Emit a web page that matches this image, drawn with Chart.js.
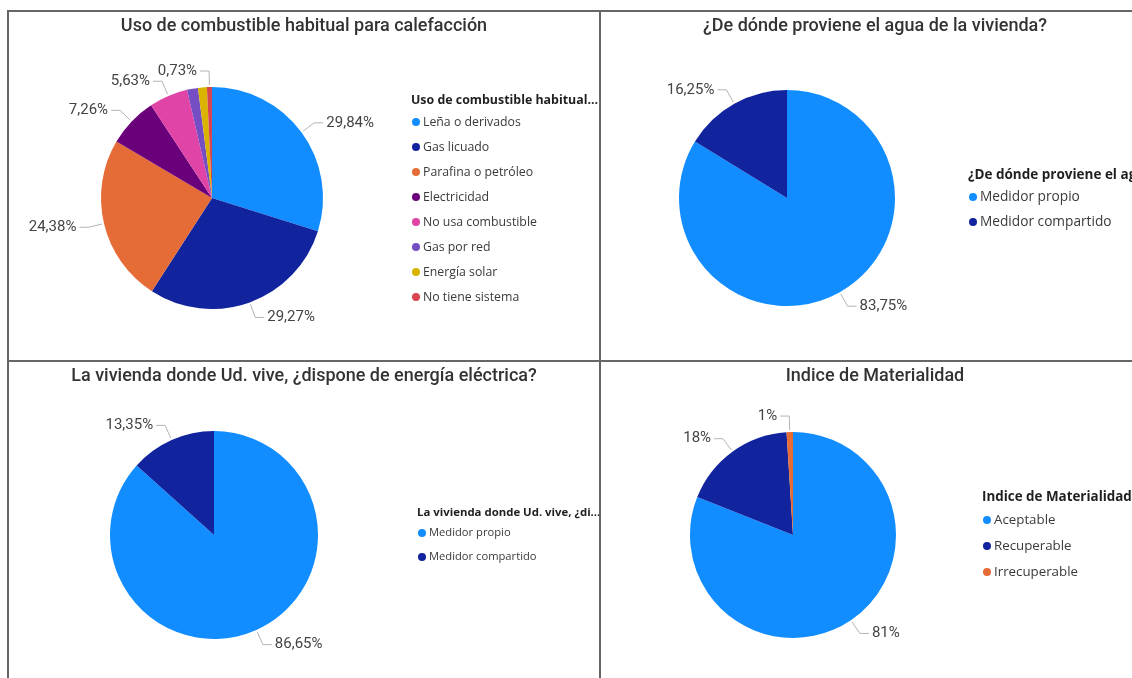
<!DOCTYPE html>
<html>
<head>
<meta charset="utf-8">
<script src="https://cdn.jsdelivr.net/npm/chart.js"></script>
<style>
  html, body { margin: 0; padding: 0; background: #fff; width: 1132px; height: 678px; overflow: hidden; position: relative; }
  canvas { position: absolute; display: block; }
  .line { position: absolute; background: #666; }
</style>
</head>
<body>
<div class="line" style="left:7px;top:10px;width:1125px;height:2px"></div>
<div class="line" style="left:7px;top:10px;width:2px;height:668px"></div>
<div class="line" style="left:599px;top:10px;width:2px;height:668px"></div>
<div class="line" style="left:7px;top:360px;width:1125px;height:2px"></div>

<canvas id="c1" width="590" height="348" style="left:9px;top:12px"></canvas>
<canvas id="c2" width="548" height="348" style="left:601px;top:12px"></canvas>
<canvas id="c3" width="590" height="316" style="left:9px;top:362px"></canvas>
<canvas id="c4" width="548" height="316" style="left:601px;top:362px"></canvas>

<script>
// --- data ---
const fuelLabels = ["Leña o derivados", "Gas licuado", "Parafina o petróleo", "Electricidad",
  "No usa combustible", "Gas por red", "Energía solar", "No tiene sistema"];
const fuelValues = [29.84, 29.27, 24.38, 7.26, 5.63, 1.60, 1.29, 0.73];
const fuelColors = ["#118DFF", "#12239E", "#E66C37", "#6B007B", "#E044A7", "#744EC2", "#D9B300", "#D64550"];

const waterLabels = ["Medidor propio", "Medidor compartido"];
const waterValues = [83.75, 16.25];

const powerLabels = ["Medidor propio", "Medidor compartido"];
const powerValues = [86.65, 13.35];

const matLabels = ["Aceptable", "Recuperable", "Irrecuperable"];
const matValues = [81, 18, 1];

const TITLE_FONT = "500 18px Roboto";
const LABEL_FONT = "15px Roboto";

function fmt(v, dec) {
  return v.toFixed(dec).replace(".", ",") + "%";
}

// data labels with leader lines, like the report
const pieLabels = {
  id: "pieLabels",
  afterDatasetsDraw(chart, args, opts) {
    const ctx = chart.ctx;
    const meta = chart.getDatasetMeta(0);
    const data = chart.data.datasets[0].data;
    const hide = opts.hide || [];
    ctx.save();
    ctx.font = LABEL_FONT;
    ctx.textBaseline = "middle";
    meta.data.forEach((arc, i) => {
      if (hide.includes(i)) return;
      const p = arc.getProps(["x", "y", "startAngle", "endAngle", "outerRadius"], true);
      const mid = (p.startAngle + p.endAngle) / 2;
      const c = Math.cos(mid), s = Math.sin(mid);
      const x0 = p.x + c * (p.outerRadius + 2), y0 = p.y + s * (p.outerRadius + 2);
      const x1 = p.x + c * (p.outerRadius + 16), y1 = p.y + s * (p.outerRadius + 16);
      const dir = c >= 0 ? 1 : -1;
      const x2 = x1 + dir * 9;
      ctx.strokeStyle = "#b4b4b4";
      ctx.lineWidth = 1;
      ctx.beginPath();
      ctx.moveTo(x0, y0);
      ctx.lineTo(x1, y1);
      ctx.lineTo(x2, y1);
      ctx.stroke();
      ctx.fillStyle = "#444";
      ctx.textAlign = dir > 0 ? "left" : "right";
      ctx.fillText(fmt(data[i], opts.decimals), x2 + dir * 3, y1);
    });
    ctx.restore();
  }
};

// panel title and legend block
const panelText = {
  id: "panelText",
  afterDraw(chart, args, o) {
    const ctx = chart.ctx;
    ctx.save();
    ctx.textBaseline = "middle";
    ctx.font = TITLE_FONT;
    ctx.fillStyle = "#333333";
    ctx.textAlign = "center";
    ctx.fillText(o.title, chart.width / 2, o.titleY);

    ctx.textAlign = "left";
    ctx.font = o.legendTitleFont;
    ctx.fillStyle = "#1f1f1f";
    ctx.fillText(o.legendTitle, o.legendX, o.legendY);

    ctx.font = o.itemFont;
    const colors = chart.data.datasets[0].backgroundColor;
    chart.data.labels.forEach((lab, i) => {
      const y = o.itemY + i * o.itemStep;
      ctx.fillStyle = colors[i];
      ctx.beginPath();
      ctx.arc(o.legendX + 5, y, 4, 0, Math.PI * 2);
      ctx.fill();
      ctx.fillStyle = "#3a3a3a";
      ctx.fillText(lab, o.legendX + 12, y);
    });
    ctx.restore();
  }
};

function makePie(id, labels, values, colors, g) {
  const canvas = document.getElementById(id);
  const W = canvas.width, H = canvas.height;
  return new Chart(canvas, {
    type: "pie",
    data: {
      labels: labels,
      datasets: [{ data: values, backgroundColor: colors, borderWidth: 0, radius: g.r }]
    },
    options: {
      responsive: false,
      animation: false,
      layout: {
        padding: { left: g.cx - g.r, right: W - g.cx - g.r, top: g.cy - g.r, bottom: H - g.cy - g.r }
      },
      plugins: {
        legend: { display: false },
        tooltip: { enabled: false },
        pieLabels: { decimals: g.decimals, hide: g.hide },
        panelText: g.text
      }
    },
    plugins: [pieLabels, panelText]
  });
}

makePie("c1", fuelLabels, fuelValues, fuelColors, {
  cx: 203, cy: 186, r: 111, decimals: 2, hide: [5, 6],
  text: {
    title: "Uso de combustible habitual para calefacción", titleY: 14,
    legendTitle: "Uso de combustible habitual...", legendTitleFont: "bold 12.4px 'Open Sans'",
    legendX: 402, legendY: 88, itemFont: "12.3px 'Open Sans'", itemY: 110, itemStep: 25
  }
});

makePie("c2", waterLabels, waterValues, ["#118DFF", "#12239E"], {
  cx: 186, cy: 186, r: 108, decimals: 2,
  text: {
    title: "¿De dónde proviene el agua de la vivienda?", titleY: 14,
    legendTitle: "¿De dónde proviene el agua de la vivienda?", legendTitleFont: "bold 13.5px 'Open Sans'",
    legendX: 367, legendY: 163, itemFont: "13.7px 'Open Sans'", itemY: 185, itemStep: 25
  }
});

makePie("c3", powerLabels, powerValues, ["#118DFF", "#12239E"], {
  cx: 205, cy: 173, r: 104, decimals: 2,
  text: {
    title: "La vivienda donde Ud. vive, ¿dispone de energía eléctrica?", titleY: 14,
    legendTitle: "La vivienda donde Ud. vive, ¿di...", legendTitleFont: "bold 11.4px 'Open Sans'",
    legendX: 408, legendY: 151, itemFont: "11.2px 'Open Sans'", itemY: 171, itemStep: 24
  }
});

makePie("c4", matLabels, matValues, ["#118DFF", "#12239E", "#E66C37"], {
  cx: 192, cy: 173, r: 103, decimals: 0,
  text: {
    title: "Indice de Materialidad", titleY: 14,
    legendTitle: "Indice de Materialidad", legendTitleFont: "bold 13.4px 'Open Sans'",
    legendX: 381, legendY: 135, itemFont: "13.3px 'Open Sans'", itemY: 158, itemStep: 26
  }
});
</script>
</body>
</html>
